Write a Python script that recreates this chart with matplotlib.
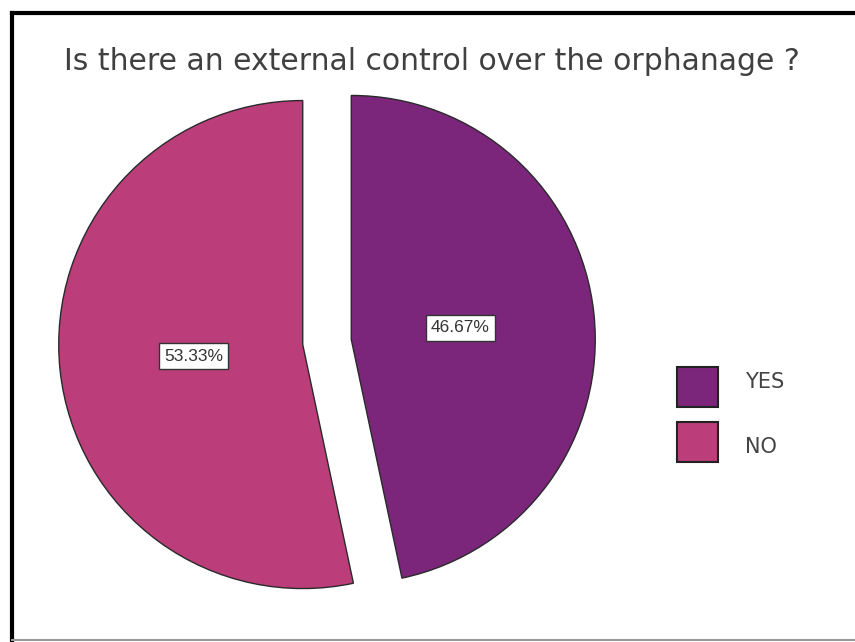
import matplotlib.pyplot as plt
from matplotlib.lines import Line2D
from matplotlib.patches import Rectangle

# data
labels = ["YES", "NO"]
shares = [46.67, 53.33]
colours = ["#7B267B", "#BB3E7A"]

W, H = 855, 642
cx, cy, r = 327, 342, 244   # pie centre and radius in pixels

fig = plt.figure(figsize=(W / 100, H / 100), dpi=100)
ax = fig.add_axes([0, 0, 1, 1])

wedges, texts, autotexts = ax.pie(
    shares, colors=colours, startangle=90, counterclock=False,
    explode=[0.1, 0.1], autopct="%.2f%%", pctdistance=0.45,
    wedgeprops=dict(edgecolor="#2a2a2a", linewidth=1.0))

for t in autotexts:
    t.set_fontsize(12.5)
    t.set_family("Liberation Sans")
    t.set_color("#333333")
    t.set_bbox(dict(boxstyle="square,pad=0.3", fc="white", ec="#333333", lw=1.0))

# pixel-matched limits (1 unit = r pixels)
ax.set_xlim(-cx / r, (W - cx) / r)
ax.set_ylim(-(H - cy) / r, cy / r)
ax.set_aspect("auto")
ax.axis("off")

fig.text(432 / W, 1 - 62 / H, "Is there an external control over the orphanage ?",
         ha="center", va="center", fontsize=21.5, family="DejaVu Sans", color="#404040")

# legend: colour squares with labels
for i, (lab, w) in enumerate(zip(labels, wedges)):
    top = 367 + i * 55
    fig.add_artist(Rectangle((677 / W, 1 - (top + 40) / H), 41 / W, 40 / H,
                             transform=fig.transFigure, fc=w.get_facecolor(),
                             ec="#222222", lw=1.5))
    fig.text(745 / W, 1 - (top + 15 + i * 10) / H, lab, ha="left", va="center",
             fontsize=15, family=["Liberation Sans Narrow", "DejaVu Sans"],
             color="#444444")

# outer frame
fig.add_artist(Line2D([12 / W, 12 / W], [1 - 13 / H, 1 - 640 / H], color="black", lw=3))
fig.add_artist(Line2D([12 / W, 1], [1 - 13 / H, 1 - 13 / H], color="black", lw=3))
fig.add_artist(Line2D([12 / W, 1], [1 - 640 / H, 1 - 640 / H], color="#999999", lw=1.5))

fig.savefig("out.png", dpi=100)
